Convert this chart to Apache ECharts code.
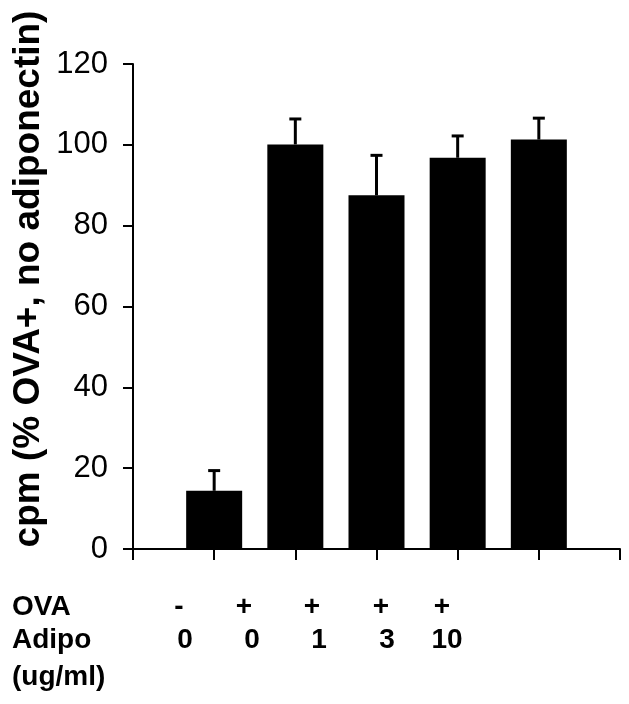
<!DOCTYPE html>
<html>
<head>
<meta charset="utf-8">
<script src="https://cdn.jsdelivr.net/npm/echarts@6/dist/echarts.min.js"></script>
<style>
html,body{margin:0;padding:0;background:#fff;}
#chart{width:629px;height:704px;}
</style>
</head>
<body>
<div id="chart"></div>
<script>
// ---- data ----
var ovaLabels = ['-', '+', '+', '+', '+'];
var adipoLabels = ['0', '0', '1', '3', '10'];
var values = [14.4, 100.1, 87.5, 96.8, 101.3];
var errors = [5.0, 6.3, 9.9, 5.4, 5.3];
var yTicks = [0, 20, 40, 60, 80, 100, 120];
var yTitle = 'cpm (% OVA+, no adiponectin)';
var rowTitles = ['OVA', 'Adipo', '(ug/ml)'];

// ---- layout (positions only) ----
var FONT = '"Liberation Sans", Arial, Helvetica, sans-serif';
var ovaX = [179, 244, 312, 381, 442];
var adipoX = [185, 252, 319, 387, 447];
var rowY = [607, 640, 677];

var categories = [''].concat(ovaLabels.map(function (o, i) { return 'OVA' + o + ' Adipo' + adipoLabels[i]; })).concat(['']);
var barData = values.map(function (v, i) { return [i + 1, v]; });
var errData = values.map(function (v, i) { return [i + 1, v, errors[i]]; });

var graphics = [];
graphics.push({
  type: 'text', x: 29, y: 279, rotation: Math.PI / 2,
  style: { text: yTitle, font: 'bold 37px ' + FONT, fill: '#000', textAlign: 'center', textVerticalAlign: 'middle' }
});
rowTitles.forEach(function (t, r) {
  graphics.push({ type: 'text', x: 12, y: rowY[r],
    style: { text: t, font: 'bold 28px ' + FONT, fill: '#000', textAlign: 'left', textVerticalAlign: 'middle' } });
});
ovaLabels.forEach(function (t, i) {
  graphics.push({ type: 'text', x: ovaX[i], y: rowY[0],
    style: { text: t, font: 'bold 28px ' + FONT, fill: '#000', textAlign: 'center', textVerticalAlign: 'middle' } });
});
adipoLabels.forEach(function (t, i) {
  graphics.push({ type: 'text', x: adipoX[i], y: rowY[1],
    style: { text: t, font: 'bold 28px ' + FONT, fill: '#000', textAlign: 'center', textVerticalAlign: 'middle' } });
});

var chart = echarts.init(document.getElementById('chart'), null, { renderer: 'canvas' });
chart.setOption({
  animation: false,
  backgroundColor: '#fff',
  grid: { left: 133, top: 64, right: 9, bottom: 155, containLabel: false },
  xAxis: {
    type: 'category',
    data: categories,
    boundaryGap: false,
    axisLine: { lineStyle: { color: '#000', width: 2 } },
    axisTick: { show: true, length: 11, lineStyle: { color: '#000', width: 2 }, interval: 0 },
    axisLabel: { show: false },
    splitLine: { show: false }
  },
  yAxis: {
    type: 'value',
    min: yTicks[0], max: yTicks[yTicks.length - 1], interval: 20,
    axisLine: { show: true, lineStyle: { color: '#000', width: 2 } },
    axisTick: { show: true, length: 10, lineStyle: { color: '#000', width: 2 } },
    axisLabel: { color: '#000', fontSize: 31, fontFamily: FONT, margin: 25 },
    splitLine: { show: false }
  },
  series: [
    {
      type: 'bar',
      data: barData,
      barWidth: 56,
      itemStyle: { color: '#000' },
      z: 2
    },
    {
      type: 'custom',
      data: errData,
      z: 3,
      renderItem: function (params, api) {
        var x = api.value(0), v = api.value(1), e = api.value(2);
        var p0 = api.coord([x, v]);
        var p1 = api.coord([x, v + e]);
        return {
          type: 'group',
          children: [
            { type: 'line', shape: { x1: p0[0], y1: p0[1], x2: p1[0], y2: p1[1] }, style: { stroke: '#000', lineWidth: 3 } },
            { type: 'line', shape: { x1: p1[0] - 6, y1: p1[1], x2: p1[0] + 6, y2: p1[1] }, style: { stroke: '#000', lineWidth: 3 } }
          ]
        };
      }
    }
  ],
  graphic: graphics
});
</script>
</body>
</html>
